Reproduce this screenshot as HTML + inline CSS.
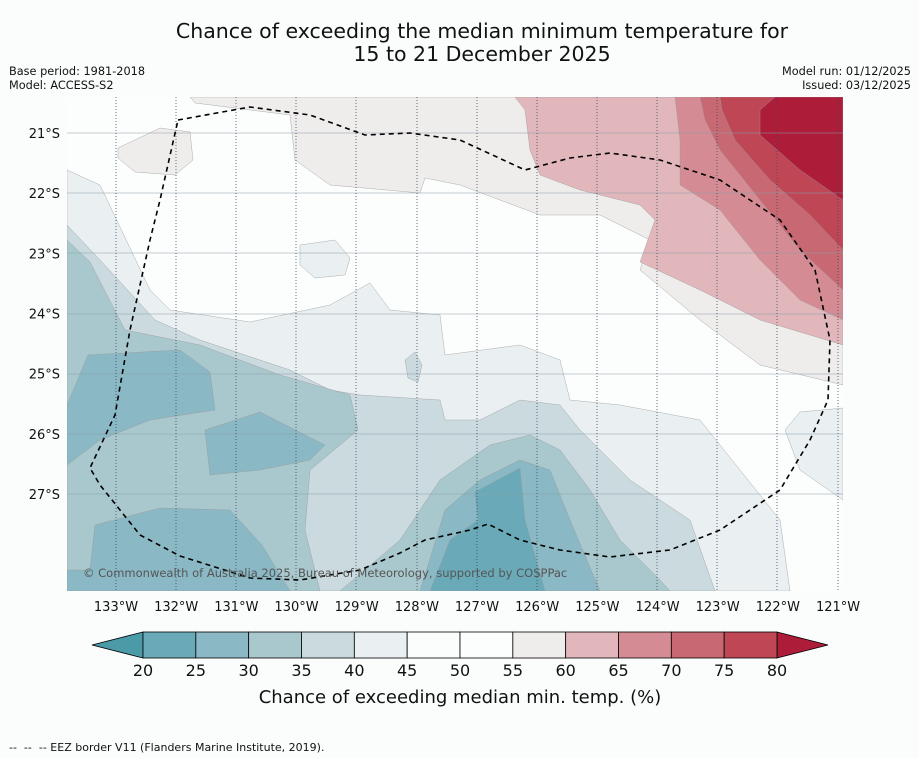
<!DOCTYPE html>
<html><head><meta charset="utf-8"><style>
html,body{margin:0;padding:0;background:#fbfdfd;}
body{width:919px;height:758px;overflow:hidden;font-family:"DejaVu Sans","Liberation Sans",sans-serif;}
svg{display:block}
</style></head><body>
<svg width="919" height="758" viewBox="0 0 919 758" font-family="DejaVu Sans, Liberation Sans, sans-serif">
<rect width="919" height="758" fill="#fbfdfd"/>
<text x="482" y="38" text-anchor="middle" font-size="20.5" fill="#111">Chance of exceeding the median minimum temperature for</text>
<text x="482" y="61" text-anchor="middle" font-size="20.5" fill="#111">15 to 21 December 2025</text>
<text x="9" y="75" font-size="11.3" fill="#111">Base period: 1981-2018</text>
<text x="9" y="89" font-size="11.3" fill="#111">Model: ACCESS-S2</text>
<text x="911" y="75" font-size="11.3" fill="#111" text-anchor="end">Model run: 01/12/2025</text>
<text x="911" y="89" font-size="11.3" fill="#111" text-anchor="end">Issued: 03/12/2025</text>

<defs><clipPath id="mapclip"><rect x="67" y="97" width="776" height="494"/></clipPath></defs>
<g id="map" clip-path="url(#mapclip)">
<rect x="67" y="97" width="776" height="494" fill="#fcfefe"/>
<g stroke="#999" stroke-width="0.4">
<polygon fill="#efecec" points="190,97 843,97 843,385 760,365 700,320 640,270 650,240 600,215 540,215 500,200 460,185 425,178 420,193 330,185 295,160 290,115 195,103"/>
<polygon fill="#efecec" points="118,148 160,128 190,132 193,160 175,175 135,172 118,158"/>
<polygon fill="#e1b7bc" points="515,97 843,97 843,345 760,320 700,290 640,262 655,220 640,205 580,190 540,175 530,150 525,110"/>
<polygon fill="#d58b93" points="675,97 843,97 843,320 800,300 760,260 720,210 680,185 680,140"/>
<polygon fill="#c86872" points="700,97 843,97 843,290 800,250 760,200 720,150 705,120"/>
<polygon fill="#be4655" points="720,97 843,97 843,250 810,215 770,180 735,140 722,110"/>
<polygon fill="#ad1d3a" points="775,97 843,97 843,200 800,170 760,135 760,110"/>
<polygon fill="#eaf0f2" points="67,170 100,185 150,290 170,310 250,322 330,305 370,283 390,310 440,315 445,355 520,345 560,360 570,400 620,405 700,420 740,470 780,520 790,591 67,591"/>
<polygon fill="#eaf0f2" points="843,408 800,412 785,430 800,470 843,500"/>
<polygon fill="#eaf0f2" points="300,245 335,240 350,258 345,275 315,278 300,265"/>
<polygon fill="#cadadf" points="67,225 100,260 155,320 200,340 290,370 330,390 360,395 440,400 445,420 480,420 520,400 560,405 580,430 630,480 690,520 715,591 67,591"/>
<polygon fill="#cadadf" points="405,360 415,352 422,365 418,382 408,378"/>
<polygon fill="#a9c8cd" points="67,240 90,262 125,330 200,345 280,375 350,395 358,430 310,470 305,530 320,591 67,591"/>
<polygon fill="#a9c8cd" points="340,591 400,540 440,480 490,445 530,435 560,450 590,490 620,540 660,580 670,591"/>
<polygon fill="#8ab8c4" points="67,405 88,355 180,350 210,372 215,410 150,420 100,440 67,465"/>
<polygon fill="#8ab8c4" points="205,430 260,412 325,445 310,460 260,470 210,475"/>
<polygon fill="#8ab8c4" points="95,525 160,508 230,510 262,545 290,591 67,591 67,570 90,570"/>
<polygon fill="#8ab8c4" points="420,591 445,510 480,480 520,460 550,470 570,520 600,591"/>
<polygon fill="#6aaab8" points="475,492 520,468 525,520 545,591 430,591 450,540 478,520"/>
</g>
<g stroke="#8a9ea8" stroke-width="0.6">
<line x1="67" x2="843" y1="133" y2="133"/><line x1="67" x2="843" y1="193" y2="193"/><line x1="67" x2="843" y1="253" y2="253"/><line x1="67" x2="843" y1="314" y2="314"/><line x1="67" x2="843" y1="374" y2="374"/><line x1="67" x2="843" y1="434" y2="434"/><line x1="67" x2="843" y1="494" y2="494"/>
</g>
<g stroke="#3a4a60" stroke-width="0.8" stroke-dasharray="1,2">
<line x1="116" x2="116" y1="97" y2="591"/><line x1="176" x2="176" y1="97" y2="591"/><line x1="236" x2="236" y1="97" y2="591"/><line x1="296" x2="296" y1="97" y2="591"/><line x1="356" x2="356" y1="97" y2="591"/><line x1="417" x2="417" y1="97" y2="591"/><line x1="477" x2="477" y1="97" y2="591"/><line x1="537" x2="537" y1="97" y2="591"/><line x1="597" x2="597" y1="97" y2="591"/><line x1="657" x2="657" y1="97" y2="591"/><line x1="717" x2="717" y1="97" y2="591"/><line x1="777" x2="777" y1="97" y2="591"/><line x1="838" x2="838" y1="97" y2="591"/>
</g>
<polyline fill="none" stroke="#000" stroke-width="1.6" stroke-dasharray="5,4" points="178,120 250,107 310,115 365,135 410,133 460,140 525,170 570,158 610,153 660,160 720,180 780,220 815,270 830,340 828,400 810,440 780,490 720,530 670,550 610,557 560,550 520,540 488,524 470,530 425,540 400,553 360,570 300,580 250,578 180,556 140,535 100,485 90,468 115,415 130,330 150,240 160,200 178,120"/>
<text x="83" y="577" font-size="11.5" fill="#555">© Commonwealth of Australia 2025, Bureau of Meteorology, supported by COSPPac</text>
</g>
<g id="ylabels" font-size="13" fill="#111" text-anchor="end"></g>
<g id="xlabels" font-size="13" fill="#111" text-anchor="middle"></g>
<g id="cbar"></g>
<text x="460" y="703" text-anchor="middle" font-size="18" fill="#111">Chance of exceeding median min. temp. (%)</text>
<text x="9" y="751" font-size="11" fill="#111">-- &#160;-- &#160;-- EEZ border V11 (Flanders Marine Institute, 2019).</text>
</svg>
<script>
const lonLabels=["133°W","132°W","131°W","130°W","129°W","128°W","127°W","126°W","125°W","124°W","123°W","122°W","121°W"];
const latLabels=["21°S","22°S","23°S","24°S","25°S","26°S","27°S"];
const cbLevels=[20,25,30,35,40,45,50,55,60,65,70,75,80];
const cbColors=["#6aaab8","#8ab8c4","#a9c8cd","#cadadf","#eaf0f2","#fbfdfd","#fcfefe","#efecec","#e1b7bc","#d58b93","#c86872","#be4655"];
const NS="http://www.w3.org/2000/svg";
const xLon=i=>116+i*60.17, yLat=i=>133+i*60.17;
const xl=document.getElementById('xlabels');
lonLabels.forEach((t,i)=>{const e=document.createElementNS(NS,'text');e.setAttribute('x',xLon(i));e.setAttribute('y',611);e.textContent=t;


xl.appendChild(e);});
const yl=document.getElementById('ylabels');
latLabels.forEach((t,i)=>{const e=document.createElementNS(NS,'text');e.setAttribute('x',60);e.setAttribute('y',yLat(i)+5);e.textContent=t;


yl.appendChild(e);});
const cb=document.getElementById('cbar');
const cx=v=>143+(v-20)*(634/60);
function mk(tag,attrs){const e=document.createElementNS(NS,tag);for(const k in attrs)e.setAttribute(k,attrs[k]);cb.appendChild(e);return e;}
const lt=mk('polygon',{points:`92,645 ${cx(20)},632 ${cx(20)},658`,fill:'#4a9aa8',stroke:'#000','stroke-width':0.8});


const rt=mk('polygon',{points:`${cx(80)},632 828,645 ${cx(80)},658`,fill:'#ad1d3a',stroke:'#000','stroke-width':0.8});


cbColors.forEach((c,i)=>{const r=mk('rect',{x:cx(cbLevels[i]),y:632,width:cx(cbLevels[i+1])-cx(cbLevels[i]),height:26,fill:c,stroke:'#000','stroke-width':0.8});

});
cbLevels.forEach(v=>{const t=mk('text',{x:cx(v),y:676,'text-anchor':'middle','font-size':16,fill:'#111'});t.textContent=v;

});
</script>
</body></html>
